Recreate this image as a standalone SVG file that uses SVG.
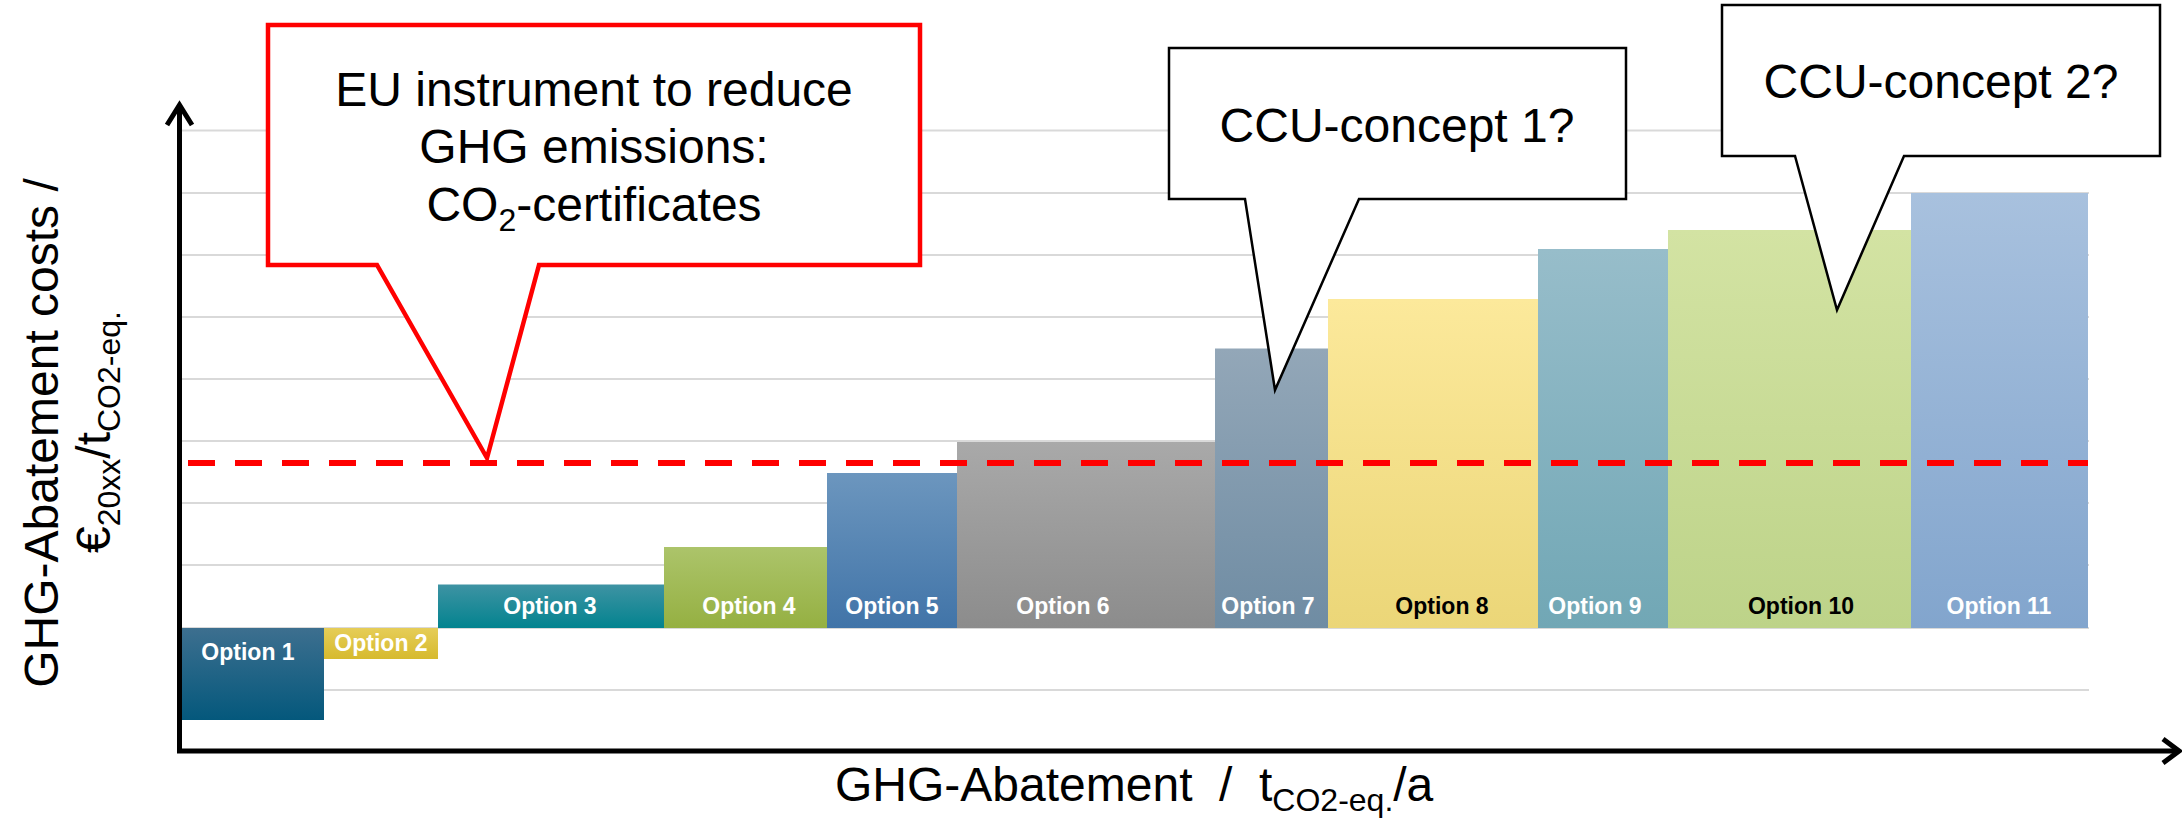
<svg xmlns="http://www.w3.org/2000/svg" width="2182" height="819" viewBox="0 0 2182 819">
<style>
.grid{stroke:#d9d9d9;stroke-width:2}
.lbl{font-family:"Liberation Sans",Arial,sans-serif;font-weight:bold;font-size:23px;text-anchor:middle;fill:#ffffff}
.dk{fill:#000000}
.big{font-family:"Liberation Sans",Arial,sans-serif;font-size:48px;fill:#000000}
.mid{text-anchor:middle}
.axis{stroke:#000;stroke-width:5;fill:none}
</style>
<defs>
<linearGradient id="g1" x1="0" y1="0" x2="0" y2="1"><stop offset="0" stop-color="#3d6f8f"/><stop offset="1" stop-color="#04587c"/></linearGradient>
<linearGradient id="g2" x1="0" y1="0" x2="0" y2="1"><stop offset="0" stop-color="#e6cd58"/><stop offset="1" stop-color="#d6ba2e"/></linearGradient>
<linearGradient id="g3" x1="0" y1="0" x2="0" y2="1"><stop offset="0" stop-color="#3e93a3"/><stop offset="1" stop-color="#03838f"/></linearGradient>
<linearGradient id="g4" x1="0" y1="0" x2="0" y2="1"><stop offset="0" stop-color="#acc46a"/><stop offset="1" stop-color="#95b042"/></linearGradient>
<linearGradient id="g5" x1="0" y1="0" x2="0" y2="1"><stop offset="0" stop-color="#6c96be"/><stop offset="1" stop-color="#4174a8"/></linearGradient>
<linearGradient id="g6" x1="0" y1="0" x2="0" y2="1"><stop offset="0" stop-color="#a9a9a9"/><stop offset="1" stop-color="#8c8c8c"/></linearGradient>
<linearGradient id="g7" x1="0" y1="0" x2="0" y2="1"><stop offset="0" stop-color="#93a7b8"/><stop offset="1" stop-color="#6f8ca3"/></linearGradient>
<linearGradient id="g8" x1="0" y1="0" x2="0" y2="1"><stop offset="0" stop-color="#fce99b"/><stop offset="1" stop-color="#ebd678"/></linearGradient>
<linearGradient id="g9" x1="0" y1="0" x2="0" y2="1"><stop offset="0" stop-color="#97bdca"/><stop offset="1" stop-color="#71a7b5"/></linearGradient>
<linearGradient id="g10" x1="0" y1="0" x2="0" y2="1"><stop offset="0" stop-color="#d3e3a3"/><stop offset="1" stop-color="#bdd389"/></linearGradient>
<linearGradient id="g11" x1="0" y1="0" x2="0" y2="1"><stop offset="0" stop-color="#a8c1de"/><stop offset="1" stop-color="#82a5cd"/></linearGradient>
</defs>
<rect width="2182" height="819" fill="#ffffff"/>
<g id="gridlines">
<line class="grid" x1="181" y1="130.5" x2="2089" y2="130.5"/>
<line class="grid" x1="181" y1="193" x2="2089" y2="193"/>
<line class="grid" x1="181" y1="255" x2="2089" y2="255"/>
<line class="grid" x1="181" y1="317" x2="2089" y2="317"/>
<line class="grid" x1="181" y1="379" x2="2089" y2="379"/>
<line class="grid" x1="181" y1="441" x2="2089" y2="441"/>
<line class="grid" x1="181" y1="503" x2="2089" y2="503"/>
<line class="grid" x1="181" y1="565" x2="2089" y2="565"/>
<line class="grid" x1="181" y1="628" x2="2089" y2="628"/>
<line class="grid" x1="181" y1="690" x2="2089" y2="690"/>
</g>
<g id="option1"><rect x="181" y="628" width="143" height="92" fill="url(#g1)"/><text class="lbl" x="248" y="660">Option 1</text></g>
<g id="option2"><rect x="324" y="628" width="114" height="31" fill="url(#g2)"/><text class="lbl" x="381" y="651">Option 2</text></g>
<g id="option3"><rect x="438" y="584.5" width="226" height="43.5" fill="url(#g3)"/><text class="lbl" x="550" y="614">Option 3</text></g>
<g id="option4"><rect x="664" y="547" width="163" height="81" fill="url(#g4)"/><text class="lbl" x="749" y="614">Option 4</text></g>
<g id="option5"><rect x="827" y="473" width="130" height="155" fill="url(#g5)"/><text class="lbl" x="892" y="614">Option 5</text></g>
<g id="option6"><rect x="957" y="442" width="258" height="186" fill="url(#g6)"/><text class="lbl" x="1063" y="614">Option 6</text></g>
<g id="option7"><rect x="1215" y="348.5" width="113" height="279.5" fill="url(#g7)"/><text class="lbl" x="1268" y="614">Option 7</text></g>
<g id="option8"><rect x="1328" y="299" width="210" height="329" fill="url(#g8)"/><text class="lbl dk" x="1442" y="614">Option 8</text></g>
<g id="option9"><rect x="1538" y="249" width="130" height="379" fill="url(#g9)"/><text class="lbl" x="1595" y="614">Option 9</text></g>
<g id="option10"><rect x="1668" y="230" width="243" height="398" fill="url(#g10)"/><text class="lbl dk" x="1801" y="614">Option 10</text></g>
<g id="option11"><rect x="1911" y="193" width="177" height="435" fill="url(#g11)"/><text class="lbl" x="1999" y="614">Option 11</text></g>
<g id="connectors">
<line x1="188" y1="463" x2="2088" y2="463" stroke="#ff0000" stroke-width="6" stroke-dasharray="27 20"/>
</g>
<g id="axes">
<line class="axis" x1="179.5" y1="106" x2="179.5" y2="751"/>
<line class="axis" x1="177" y1="751" x2="2178" y2="751"/>
<polyline class="axis" points="167,125 179.5,105 192,125"/>
<polyline class="axis" points="2163,739 2179,751 2163,763"/>
</g>
<g id="callout-eu">
<path d="M268,25 H920 V265 H539 L487,458 L377,265 H268 Z" fill="#ffffff" stroke="#ff0000" stroke-width="4.5"/>
<text class="big mid" x="594" y="106">EU instrument to reduce</text>
<text class="big mid" x="594" y="163">GHG emissions:</text>
<text class="big mid" x="594" y="221">CO<tspan font-size="32" dy="10">2</tspan><tspan dy="-10">-certificates</tspan></text>
</g>
<g id="callout-ccu1">
<path d="M1169,48 H1626 V199 H1359 L1275,390 L1245,199 H1169 Z" fill="#ffffff" stroke="#000000" stroke-width="2.5"/>
<text class="big mid" x="1397" y="142">CCU-concept 1?</text>
</g>
<g id="callout-ccu2">
<path d="M1722,5 H2160 V156 H1904 L1837,310 L1795,156 H1722 Z" fill="#ffffff" stroke="#000000" stroke-width="2.5"/>
<text class="big mid" x="1941" y="98">CCU-concept 2?</text>
</g>
<g id="y-label">
<text class="big mid" transform="translate(58,433) rotate(-90)">GHG-Abatement costs /</text>
<text class="big mid" transform="translate(110,432) rotate(-90)">€<tspan font-size="32" dy="10">20xx</tspan><tspan dy="-10">/t</tspan><tspan font-size="32" dy="10">CO2-eq.</tspan></text>
</g>
<g id="x-label">
<text class="big" x="835" y="801">GHG-Abatement<tspan x="1219">/</tspan><tspan x="1259">t</tspan><tspan font-size="32" dy="10">CO2-eq.</tspan><tspan dy="-10">/a</tspan></text>
</g>
</svg>
